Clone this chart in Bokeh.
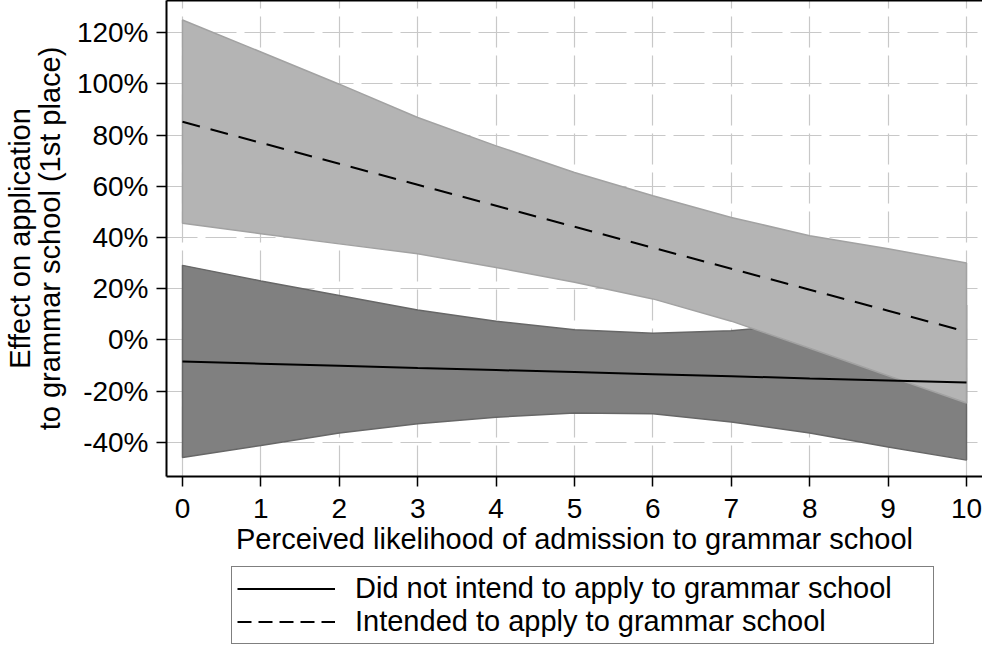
from bokeh.plotting import figure
from bokeh.layouts import column
from bokeh.models import FixedTicker, PrintfTickFormatter, Legend, LegendItem, LinearAxis
from bokeh.embed import file_html
from bokeh.resources import INLINE

# Perceived likelihood of admission (x)
likelihood = [0, 1, 2, 3, 4, 5, 6, 7, 8, 9, 10]

# Did not intend to apply to grammar school (effect, %, with CI)
no_est = [-8.5, -9.3, -10.1, -11.0, -11.8, -12.6, -13.4, -14.2, -15.1, -15.9, -16.7]
no_hi = [29.1, 23.0, 17.3, 11.7, 7.3, 3.9, 2.6, 3.6, 6.2, 10.0, 13.6]
no_lo = [-46.0, -41.3, -36.4, -32.8, -30.2, -28.6, -28.9, -32.1, -36.4, -41.9, -47.0]

# Intended to apply to grammar school (effect, %, with CI)
yes_est = [85.2, 77.0, 68.8, 60.6, 52.4, 44.2, 36.0, 27.8, 19.6, 11.4, 3.2]
yes_hi = [125.0, 112.5, 99.9, 86.9, 75.8, 65.4, 56.3, 47.8, 40.7, 35.6, 30.0]
yes_lo = [45.6, 41.5, 37.5, 33.6, 28.3, 22.5, 16.0, 7.3, -3.3, -14.0, -24.7]

x_ticks = [0, 1, 2, 3, 4, 5, 6, 7, 8, 9, 10]
y_ticks = [-40, -20, 0, 20, 40, 60, 80, 100, 120]

series_labels = ["Did not intend to apply to grammar school",
                 "Intended to apply to grammar school"]
x_title = "Perceived likelihood of admission to grammar school"
y_title = "Effect on application\nto grammar school (1st place)"

FONT = "Liberation Sans"
NAN = float("nan")

fig = figure(width=982, height=566, output_backend="svg", toolbar_location=None,
             x_range=(-0.204, 10.204), y_range=(-53.4, 132.6),
             min_border_left=166, min_border_right=0, min_border_top=0,
             min_border_bottom=90)
fig.outline_line_color = None
fig.background_fill_color = "white"
fig.border_fill_color = "white"

# confidence bands
fig.patch(likelihood + likelihood[::-1], no_hi + no_lo[::-1],
          fill_color="#808080", line_color="#676767", line_width=1.5)
fig.patch(likelihood + likelihood[::-1], yes_hi + yes_lo[::-1],
          fill_color="#b4b4b4", line_color="#a2a2a2", line_width=1.5)

fig.line(likelihood, no_est, line_color="black", line_width=2)
fig.line(likelihood, yes_est, line_color="black", line_width=2, line_dash="18 11")

# axes
for ax in (fig.xaxis[0], fig.yaxis[0]):
    ax.axis_line_width = 2
    ax.axis_line_color = "black"
    ax.major_tick_line_width = 1.5
    ax.major_tick_out = 10
    ax.major_tick_in = 0
    ax.minor_tick_out = 0
    ax.minor_tick_in = 0
    ax.major_label_text_font = FONT
    ax.major_label_text_font_size = "28px"
    ax.major_label_text_color = "black"
    ax.axis_label_text_font = FONT
    ax.axis_label_text_font_size = "29px"
    ax.axis_label_text_font_style = "normal"
    ax.axis_label_text_color = "black"

fig.xaxis.ticker = FixedTicker(ticks=x_ticks)
fig.yaxis.ticker = FixedTicker(ticks=y_ticks)
fig.yaxis.formatter = PrintfTickFormatter(format="%d%%")
fig.xaxis.axis_label = x_title
fig.yaxis.axis_label = y_title
fig.xaxis.major_label_standoff = 12
fig.xaxis.axis_label_standoff = 2
fig.yaxis.major_label_standoff = 8
fig.yaxis.axis_label_standoff = 8
fig.yaxis.axis_label_text_line_height = 0.92

# top border of the plot region
top_axis = LinearAxis(ticker=FixedTicker(ticks=[]), axis_line_width=2,
                      axis_line_color="black", major_tick_out=0, major_tick_in=0,
                      minor_tick_out=0, minor_tick_in=0,
                      major_label_text_font_size="0px")
fig.add_layout(top_axis, "above")

# grid
fig.xgrid.ticker = FixedTicker(ticks=x_ticks)
fig.ygrid.ticker = FixedTicker(ticks=y_ticks)
for g in (fig.xgrid[0], fig.ygrid[0]):
    g.grid_line_color = "#c8c8c8"
    g.grid_line_width = 1.2
    g.grid_line_dash = "31 8"

# legend strip below the chart (its frame is aligned with the chart's frame)
leg = figure(width=982, height=79, output_backend="svg", toolbar_location=None,
             x_axis_location=None, y_axis_location=None,
             min_border_left=166, min_border_right=0, min_border_top=0,
             min_border_bottom=0)
leg.outline_line_color = None
leg.grid.visible = False
leg.background_fill_color = "white"
leg.border_fill_color = "white"
# legend keys only (no visible data)
k_no = leg.line([NAN], [NAN], line_color="black", line_width=2)
k_yes = leg.line([NAN], [NAN], line_color="black", line_width=2, line_dash="14 7")

legend = Legend(items=[LegendItem(label=series_labels[0], renderers=[k_no]),
                       LegendItem(label=series_labels[1], renderers=[k_yes])],
                location=(65, 1), orientation="vertical")
legend.border_line_color = "black"
legend.border_line_width = 1.5
legend.background_fill_color = "white"
legend.background_fill_alpha = 1.0
legend.padding = 5
legend.spacing = 0
legend.margin = 0
legend.glyph_width = 98
legend.glyph_height = 33
legend.label_height = 33
legend.label_width = 573
legend.label_standoff = 20
legend.label_text_font = FONT
legend.label_text_font_size = "29px"
legend.label_text_color = "black"
leg.add_layout(legend)

p = column(fig, leg, spacing=0)

open("out.html", "w").write(file_html(p, INLINE))
